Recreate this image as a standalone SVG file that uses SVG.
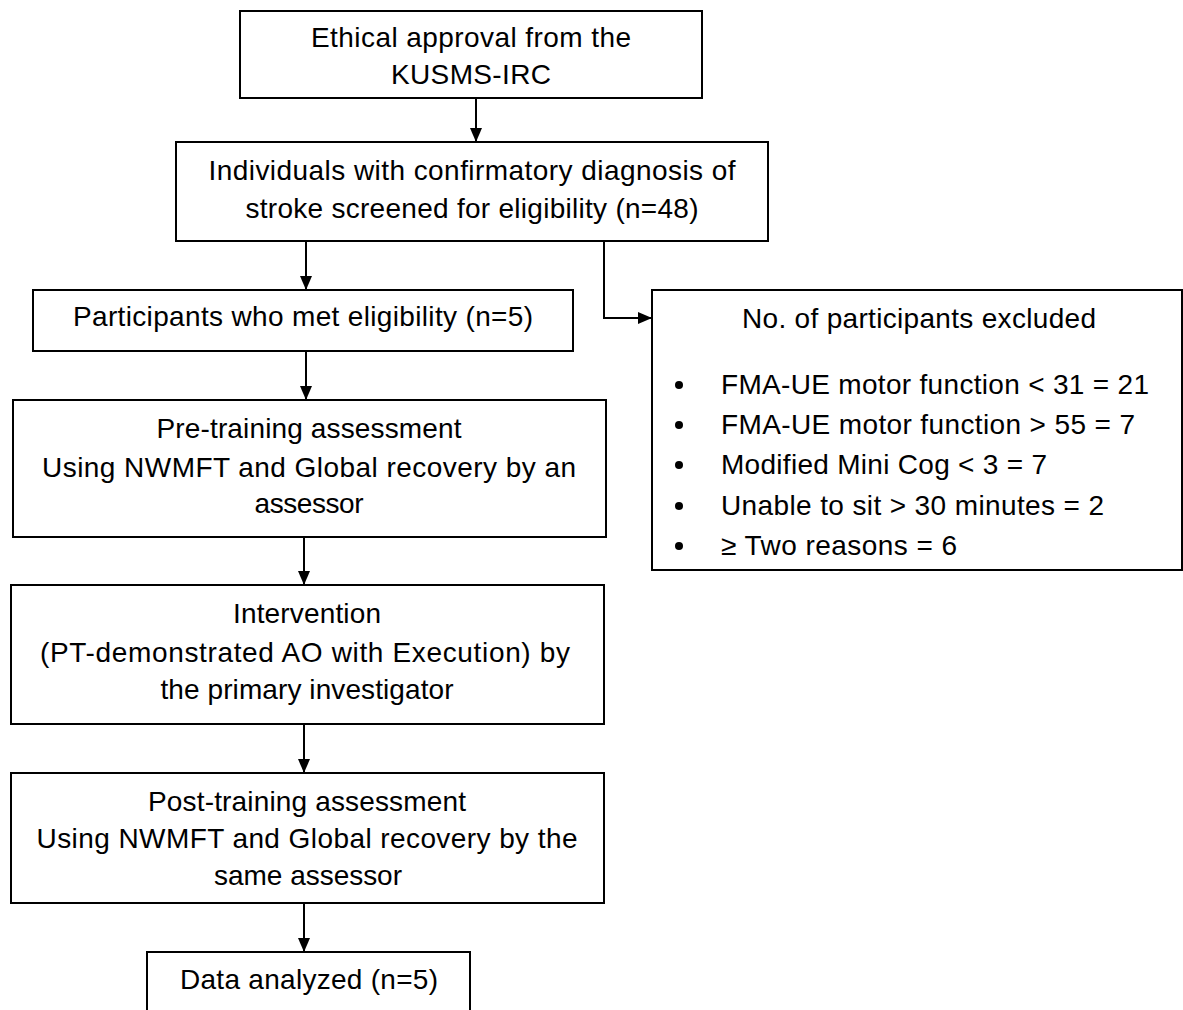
<svg xmlns="http://www.w3.org/2000/svg" width="1183" height="1010" viewBox="0 0 1183 1010">
<style>
.box{fill:#fff;stroke:#000;stroke-width:2}
.t{font-family:"Liberation Sans",Arial,sans-serif;font-size:28px;fill:#000;text-anchor:middle}
.l{font-family:"Liberation Sans",Arial,sans-serif;font-size:28px;fill:#000}
.c{fill:none;stroke:#000;stroke-width:2}
</style>
<defs>
<marker id="ah" viewBox="0 0 14 12" refX="14" refY="6" markerWidth="14" markerHeight="12" markerUnits="userSpaceOnUse" orient="auto">
<path d="M0,0 L14,6 L0,12 Z" fill="#000"/>
</marker>
</defs>
<rect width="1183" height="1010" fill="#fff"/>
<g id="connectors">
<line class="c" x1="476" y1="98" x2="476" y2="142" marker-end="url(#ah)"/>
<line class="c" x1="306" y1="241" x2="306" y2="290" marker-end="url(#ah)"/>
<polyline class="c" points="604,241 604,318 652,318" marker-end="url(#ah)"/>
<line class="c" x1="306" y1="351" x2="306" y2="400" marker-end="url(#ah)"/>
<line class="c" x1="304" y1="537" x2="304" y2="585" marker-end="url(#ah)"/>
<line class="c" x1="304" y1="724" x2="304" y2="773" marker-end="url(#ah)"/>
<line class="c" x1="304" y1="903" x2="304" y2="952" marker-end="url(#ah)"/>
</g>
<g id="ethical">
<rect class="box" x="240" y="11" width="462" height="87"/>
<text class="t" x="471" y="47" textLength="320">Ethical approval from the</text>
<text class="t" x="471" y="84" textLength="160">KUSMS-IRC</text>
</g>
<g id="screened">
<rect class="box" x="176" y="142" width="592" height="99"/>
<text class="t" x="472" y="180" textLength="527">Individuals with confirmatory diagnosis of</text>
<text class="t" x="472" y="218" textLength="453">stroke screened for eligibility (n=48)</text>
</g>
<g id="eligible">
<rect class="box" x="33" y="290" width="540" height="61"/>
<text class="t" x="303" y="326" textLength="460">Participants who met eligibility (n=5)</text>
</g>
<g id="excluded">
<rect class="box" x="652" y="290" width="530" height="280"/>
<text class="t" x="919" y="328" textLength="354">No. of participants excluded</text>
<circle cx="679" cy="385" r="4"/>
<circle cx="679" cy="425" r="4"/>
<circle cx="679" cy="465" r="4"/>
<circle cx="679" cy="506" r="4"/>
<circle cx="679" cy="546" r="4"/>
<text class="l" x="721" y="394" textLength="428">FMA-UE motor function &lt; 31 = 21</text>
<text class="l" x="721" y="434" textLength="414">FMA-UE motor function &gt; 55 = 7</text>
<text class="l" x="721" y="474" textLength="326">Modified Mini Cog &lt; 3 = 7</text>
<text class="l" x="721" y="515" textLength="383">Unable to sit &gt; 30 minutes = 2</text>
<text class="l" x="721" y="555" textLength="236">≥ Two reasons = 6</text>
</g>
<g id="pretraining">
<rect class="box" x="13" y="400" width="593" height="137"/>
<text class="t" x="309" y="438" textLength="305">Pre-training assessment</text>
<text class="t" x="309" y="477" textLength="534">Using NWMFT and Global recovery by an</text>
<text class="t" x="309" y="513" textLength="109">assessor</text>
</g>
<g id="intervention">
<rect class="box" x="11" y="585" width="593" height="139"/>
<text class="t" x="307" y="623" textLength="148">Intervention</text>
<text class="t" x="305" y="662" textLength="530">(PT-demonstrated AO with Execution) by</text>
<text class="t" x="307" y="699" textLength="293">the primary investigator</text>
</g>
<g id="posttraining">
<rect class="box" x="11" y="773" width="593" height="130"/>
<text class="t" x="307" y="811" textLength="318">Post-training assessment</text>
<text class="t" x="307" y="848" textLength="541">Using NWMFT and Global recovery by the</text>
<text class="t" x="308" y="885" textLength="188">same assessor</text>
</g>
<g id="analyzed">
<rect class="box" x="147" y="952" width="323" height="70"/>
<text class="t" x="309" y="989" textLength="258">Data analyzed (n=5)</text>
</g>
</svg>
